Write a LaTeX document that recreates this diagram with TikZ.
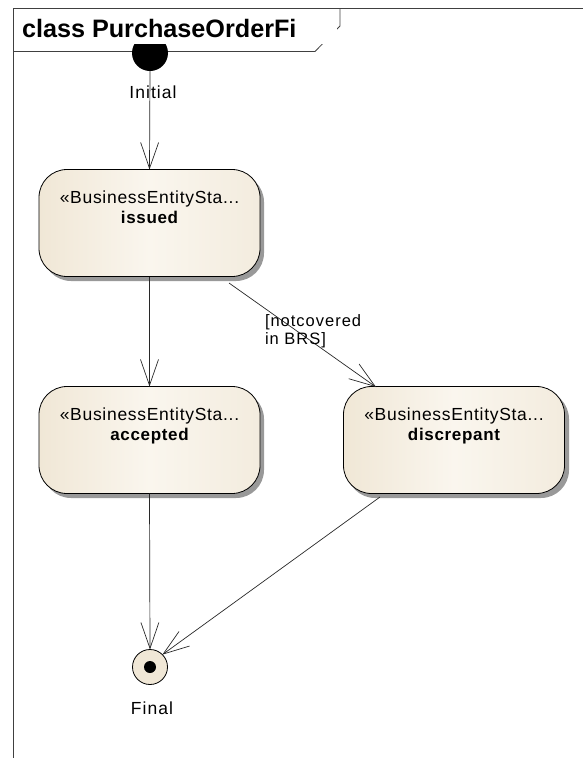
\documentclass[tikz,border=0pt]{standalone}
\usepackage{fontspec}
\setmainfont{Liberation Sans}
\newfontfamily\lblfont[LetterSpace=4]{Liberation Sans}
\newfontfamily\smallfont[LetterSpace=6]{Liberation Sans}
\newfontfamily\guardfont[LetterSpace=6]{Liberation Sans}
\newfontfamily\namefont[LetterSpace=4]{Liberation Sans}
\usetikzlibrary{arrows.meta,positioning}
\definecolor{statefill}{RGB}{240,231,214}
\definecolor{statefilll}{RGB}{250,246,238}
\definecolor{edgecol}{RGB}{40,40,40}
\tikzset{
  every node/.style={inner sep=0pt, outer sep=0pt},
  statebox/.style={draw=black, line width=0.8pt, rounded corners=28pt, minimum width=221pt, minimum height=107pt,
     left color=statefill, right color=statefill!80!white, middle color=statefilll},
  stateshadow/.style={fill=black!40, rounded corners=28pt, draw=none},
  trans/.style={draw=edgecol, line width=0.7pt, -{Straight Barb[length=26pt,width=18pt,line width=0.7pt]}},
  lbl/.style={font=\lblfont\fontsize{17.5}{19}\selectfont, anchor=base},
  pslbl/.style={font=\smallfont\fontsize{17.5}{19}\selectfont, anchor=base},
  guardlbl/.style={font=\guardfont\fontsize{16.5}{18}\selectfont, anchor=base west},
  namelbl/.style={font=\namefont\bfseries\fontsize{17}{19}\selectfont, anchor=base},
}
\begin{document}
\begin{tikzpicture}[x=1pt,y=-1pt]
\useasboundingbox (0,0) rectangle (583,758);
% frame
\draw[black!75, line width=0.8pt] (583,8) -- (13,8) -- (13,758);
\draw[black!75, line width=0.8pt] (13,51.5) -- (315,51.5) -- (340,26) -- (340,8);
% initial
\node[circle, fill=black, minimum size=36pt] (init) at (150,53) {};
\fill[white] (16,10) rectangle (337,44);
\node[anchor=base west, font=\bfseries\fontsize{25.2}{27}\selectfont] (title) at (22,37) {class PurchaseOrderFi};
\node[pslbl] (initlbl) at (153,98) {Initial};
% shadows
\fill[stateshadow] (43,174) rectangle (264,281);
\fill[stateshadow] (43,391) rectangle (264,498);
\fill[stateshadow] (347,391) rectangle (569,498);
% states
\node[statebox] (issued) at (149.5,223) {};
\node[lbl] at (149.5,203) {«BusinessEntitySta...};
\node[namelbl] at (149.5,223) {issued};
\node[statebox] (accepted) at (149.5,440) {};
\node[lbl] at (149.5,420) {«BusinessEntitySta...};
\node[namelbl] at (149.5,440) {accepted};
\node[statebox] (discrepant) at (454,440) {};
\node[lbl] at (454,420) {«BusinessEntitySta...};
\node[namelbl] at (454,440) {discrepant};
% final
\node[circle, draw=black, line width=0.8pt, fill=statefill, minimum size=35pt] (final) at (150,667) {};
\fill[black] (final.center) circle (6pt);
\node[pslbl] (finallbl) at (152,714) {Final};
% transitions
\draw[trans] (init.south) -- (issued.north);
\draw[trans] (issued.south) -- (accepted.north);
\coordinate (iss-out) at (229,283);
\coordinate (dis-in) at (376,387);
\draw[trans] (iss-out) -- (dis-in);
\node[guardlbl] (guard1) at (265,326) {[notcovered};
\node[guardlbl] (guard2) at (265,344) {in BRS]};
\draw[trans] (accepted.south) -- (final.north);
\coordinate (dis-out) at (380,497);
\draw[trans] (dis-out) -- (final.north east);
\end{tikzpicture}
\end{document}
